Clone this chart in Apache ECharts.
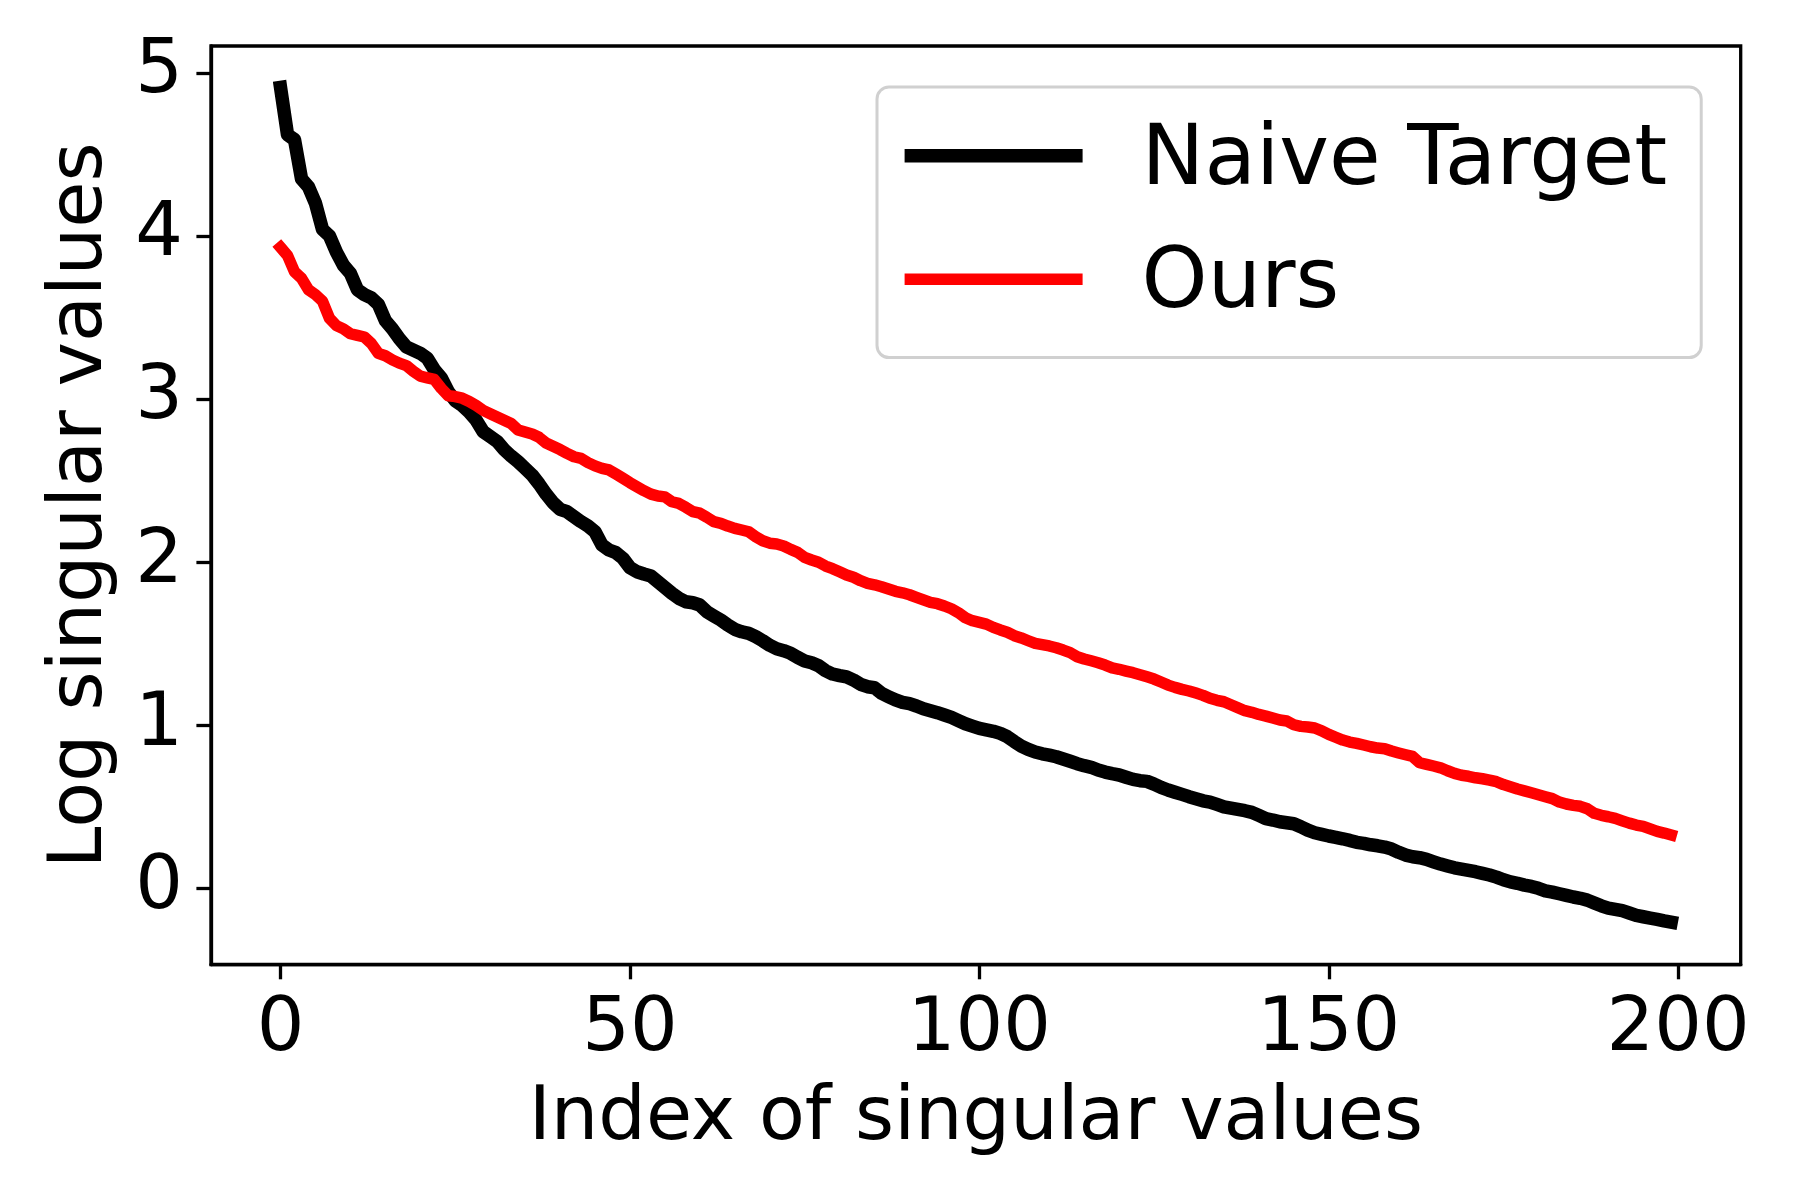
<!DOCTYPE html>
<html>
<head>
<meta charset="utf-8">
<script src="https://cdn.jsdelivr.net/npm/echarts@6/dist/echarts.min.js"></script>
<style>
html,body{margin:0;padding:0;background:#fff;}
#chart{width:1800px;height:1200px;}
</style>
</head>
<body>
<div id="chart"></div>
<script>
const seriesNames = ['Naive Target', 'Ours'];
const xTicks = [0, 50, 100, 150, 200];
const yTicks = [0, 1, 2, 3, 4, 5];

const naiveTarget = [
4.91,4.62,4.59,4.35,4.30,4.20,4.04,4.00,3.90,3.82,
3.77,3.67,3.64,3.62,3.58,3.48,3.43,3.37,3.32,3.30,
3.28,3.25,3.18,3.13,3.045,2.99,2.96,2.92,2.87,2.80,
2.77,2.74,2.69,2.65,2.615,2.575,2.534,2.479,2.417,2.364,
2.324,2.309,2.278,2.248,2.221,2.186,2.105,2.074,2.058,2.023,
1.966,1.941,1.927,1.915,1.88,1.845,1.809,1.778,1.757,1.751,
1.737,1.696,1.67,1.645,1.614,1.588,1.573,1.563,1.543,1.518,
1.49,1.469,1.457,1.441,1.416,1.394,1.383,1.365,1.334,1.314,
1.304,1.296,1.277,1.251,1.236,1.23,1.196,1.175,1.155,1.14,
1.132,1.118,1.101,1.089,1.077,1.063,1.048,1.028,1.009,0.995,
0.981,0.972,0.963,0.95,0.93,0.90,0.872,0.852,0.836,0.825,
0.817,0.807,0.793,0.779,0.764,0.752,0.742,0.725,0.713,0.703,
0.695,0.681,0.668,0.66,0.656,0.639,0.619,0.603,0.589,0.576,
0.562,0.55,0.537,0.529,0.515,0.50,0.492,0.484,0.476,0.466,
0.447,0.427,0.419,0.408,0.402,0.396,0.378,0.357,0.341,0.331,
0.321,0.313,0.304,0.294,0.282,0.276,0.267,0.261,0.253,0.241,
0.221,0.204,0.194,0.188,0.178,0.163,0.149,0.137,0.126,0.118,
0.11,0.102,0.092,0.082,0.069,0.053,0.04,0.031,0.02,0.012,
0.0,-0.015,-0.023,-0.033,-0.043,-0.053,-0.061,-0.072,-0.09,-0.107,
-0.121,-0.129,-0.137,-0.151,-0.166,-0.174,-0.182,-0.19,-0.199,-0.207
];

const ours = [
3.93,3.88,3.78,3.74,3.67,3.64,3.60,3.495,3.45,3.43,
3.40,3.39,3.38,3.34,3.28,3.265,3.24,3.22,3.205,3.17,
3.14,3.13,3.12,3.065,3.02,3.015,3.005,2.985,2.96,2.93,
2.91,2.89,2.87,2.85,2.81,2.797,2.785,2.765,2.73,2.71,
2.69,2.667,2.646,2.636,2.61,2.59,2.575,2.565,2.54,2.514,
2.487,2.462,2.438,2.417,2.405,2.40,2.37,2.36,2.336,2.31,
2.30,2.275,2.248,2.238,2.221,2.207,2.197,2.186,2.156,2.131,
2.116,2.111,2.099,2.078,2.06,2.029,2.013,1.999,1.976,1.96,
1.941,1.921,1.907,1.886,1.87,1.861,1.849,1.835,1.821,1.812,
1.80,1.784,1.768,1.753,1.745,1.731,1.714,1.69,1.659,1.641,
1.631,1.62,1.60,1.584,1.57,1.549,1.535,1.518,1.502,1.494,
1.486,1.475,1.461,1.445,1.42,1.406,1.395,1.383,1.369,1.352,
1.343,1.332,1.322,1.31,1.297,1.283,1.265,1.246,1.232,1.22,
1.21,1.197,1.183,1.165,1.153,1.144,1.126,1.107,1.089,1.079,
1.066,1.056,1.044,1.032,1.026,1.003,0.993,0.989,0.983,0.966,
0.944,0.926,0.909,0.897,0.889,0.879,0.868,0.86,0.856,0.842,
0.83,0.819,0.809,0.77,0.76,0.75,0.739,0.721,0.705,0.693,
0.687,0.678,0.672,0.664,0.654,0.636,0.623,0.609,0.598,0.586,
0.574,0.562,0.55,0.529,0.517,0.509,0.503,0.488,0.46,0.448,
0.439,0.429,0.414,0.40,0.388,0.38,0.364,0.349,0.339,0.327
];

const indices = naiveTarget.map((_, i) => i);

const FONT = 'DejaVu Sans';
const chart = echarts.init(document.getElementById('chart'), null, {renderer: 'canvas'});

const axisCommon = {
  axisLine: {show: true, onZero: false, lineStyle: {color: '#000', width: 3.3}},
  axisTick: {show: true, inside: false, length: 14.6, lineStyle: {color: '#000', width: 3.3}},
  splitLine: {show: false},
  nameTextStyle: {fontFamily: FONT, fontSize: 75, color: '#000'},
};

// legend icons: line bar in the upper part of a 178x26 box so that the label sits level with it
const iconBlack = 'path://M0,0L178,0L178,13.5L0,13.5Z M0,26L0.01,26';
const iconRed = 'path://M0,0L0.01,0 M0,1L178,1L178,12.5L0,12.5Z M0,26L0.01,26';

chart.setOption({
  animation: false,
  backgroundColor: '#ffffff',
  grid: {left: 211, right: 59.3, top: 46, bottom: 235.3, show: true, borderColor: '#000', borderWidth: 3.3, containLabel: false},
  xAxis: Object.assign({}, axisCommon, {
    type: 'value', min: -9.95, max: 208.95,
    name: 'Index of singular values', nameLocation: 'middle', nameGap: 117,
    axisTick: Object.assign({}, axisCommon.axisTick, {customValues: xTicks}),
    axisLabel: {customValues: xTicks, fontFamily: FONT, fontSize: 75, color: '#000', margin: 28},
  }),
  yAxis: Object.assign({}, axisCommon, {
    type: 'value', min: -0.468, max: 5.164,
    name: 'Log singular values', nameLocation: 'middle', nameGap: 92,
    axisTick: Object.assign({}, axisCommon.axisTick, {customValues: yTicks}),
    axisLabel: {customValues: yTicks, fontFamily: FONT, fontSize: 75, color: '#000', margin: 28, padding: [9, 0, 0, 0]},
  }),
  legend: {
    orient: 'vertical', left: 877, top: 87,
    padding: [25, 34, 22, 27.6],
    borderColor: '#d0d0d0', borderWidth: 3, borderRadius: 12, backgroundColor: '#fff',
    itemWidth: 178, itemHeight: 26, itemGap: 23.6,
    textStyle: {fontFamily: FONT, fontSize: 84, color: '#000', lineHeight: 100, padding: [0, 0, 0, 54]},
    data: [
      {name: seriesNames[0], icon: iconBlack, itemStyle: {color: '#000000', borderWidth: 0}},
      {name: seriesNames[1], icon: iconRed, itemStyle: {color: '#ff0000', borderWidth: 0}},
    ],
  },
  series: [
    {
      name: seriesNames[0], type: 'line', showSymbol: false, symbol: 'none',
      data: indices.map(i => [i, naiveTarget[i]]),
      lineStyle: {color: '#000000', width: 13.5, cap: 'square', join: 'round'},
      itemStyle: {color: '#000000'},
      z: 2,
    },
    {
      name: seriesNames[1], type: 'line', showSymbol: false, symbol: 'none',
      data: indices.map(i => [i, ours[i]]),
      lineStyle: {color: '#ff0000', width: 11.5, cap: 'square', join: 'round'},
      itemStyle: {color: '#ff0000'},
      z: 3,
    },
  ],
});
</script>
</body>
</html>
